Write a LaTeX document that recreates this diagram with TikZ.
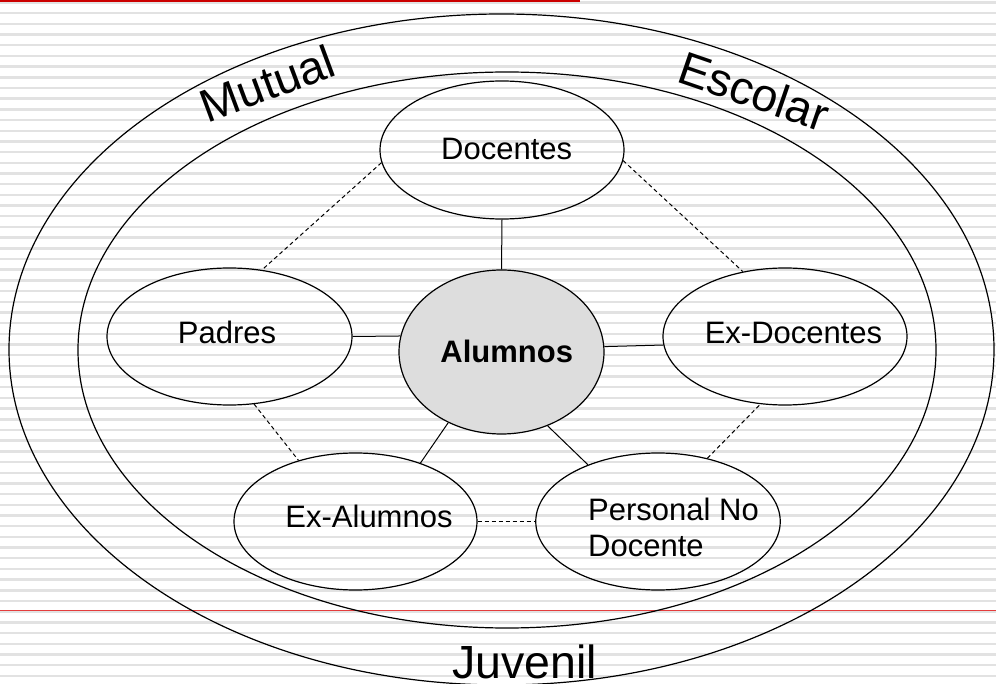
\documentclass[tikz,border=0pt]{standalone}
\usepackage{fontspec}
\setmainfont{Liberation Sans}
\usetikzlibrary{shapes.geometric}
\definecolor{stripe}{RGB}{226,226,226}
\definecolor{topred}{RGB}{204,0,0}
\definecolor{lowred}{RGB}{228,60,60}
\definecolor{alufill}{RGB}{221,221,221}
\tikzset{
  ell/.style={ellipse, draw=black, line width=1.2pt, inner sep=0pt},
  ring/.style={draw=black, line width=1.2pt},
  lbl/.style={inner sep=0pt, font=\fontsize{31}{37}\selectfont},
  big/.style={inner sep=0pt, font=\fontsize{46.5}{52}\selectfont},
  solidcon/.style={draw=black, line width=1pt},
  dashcon/.style={draw=black, line width=1pt, dash pattern=on 4pt off 3pt}
}
\begin{document}
\begin{tikzpicture}[x=1pt,y=-1pt]
\useasboundingbox (0,0) rectangle (996,684);
\fill[white] (0,0) rectangle (996,684);
% striped background
\foreach \k in {0,...,63}{
  \draw[stripe, line width=2.4pt] (0,{2.5+\k*10.6875}) -- (996,{2.5+\k*10.6875});
}
% red rules
\draw[topred, line width=2.5pt] (0,1.2) -- (580,1.2);
\draw[lowred, line width=1.2pt] (0,610.7) -- (996,610.7);
% rings
\draw[ring] (501.5,349.5) ellipse [x radius=492.5, y radius=335.5];
\draw[ring] (507,350) ellipse [x radius=429, y radius=278];
% ring labels
\node[big, rotate=20.4, anchor=base] (mutual) at (273,99) {Mutual};
\node[big, rotate=-19, anchor=base] (escolar) at (748.5,107) {Escolar};
\node[big, anchor=base] (juvenil) at (524.5,678) {Juvenil};
% ellipses
\node[ell, minimum width=244pt, minimum height=138pt] (doc) at (502,150) {};
\node[ell, minimum width=245pt, minimum height=137pt] (pad) at (229.5,336.5) {};
\node[ell, fill=alufill, minimum width=205pt, minimum height=164pt] (alu) at (501.5,352) {};
\node[ell, minimum width=244pt, minimum height=137pt] (exd) at (785,336.5) {};
\node[ell, minimum width=243pt, minimum height=137pt] (exa) at (355.5,521.5) {};
\node[ell, minimum width=244.5pt, minimum height=137pt] (pnd) at (658,521.5) {};
% texts
\node[lbl, anchor=base] (tdoc) at (506.7,159.3) {Docentes};
\node[lbl, anchor=base] (tpad) at (227,344) {Padres};
\node[lbl, anchor=base, font=\fontsize{31}{37}\selectfont\bfseries] (talu) at (506.7,362.7) {Alumnos};
\node[lbl, anchor=base] (texd) at (793.5,344) {Ex-Docentes};
\node[lbl, anchor=base] (texa) at (369,527.7) {Ex-Alumnos};
\node[lbl, anchor=base west] (tpnd1) at (588,520) {Personal No};
\node[lbl, anchor=base west] (tpnd2) at (588,556.7) {Docente};
% solid connectors
\draw[solidcon] (doc.south) -- (alu.north);
\draw[solidcon] (pad.east) -- (alu.171.5);
\draw[solidcon] (alu.3.4) -- (exd.184.5);
\draw[solidcon] (alu.233.5) -- (exa.42.2);
\draw[solidcon] (alu.302) -- (pnd.141.7);
% dashed connectors
\draw[dashcon] (doc.186) -- (pad.64);
\draw[dashcon] (doc.-5) -- (exd.123);
\draw[dashcon] (pad.-70) -- (exa.133);
\draw[dashcon] (pnd.52) -- (exd.250);
\draw[dashcon] (exa.east) -- (pnd.west);
\end{tikzpicture}
\end{document}
